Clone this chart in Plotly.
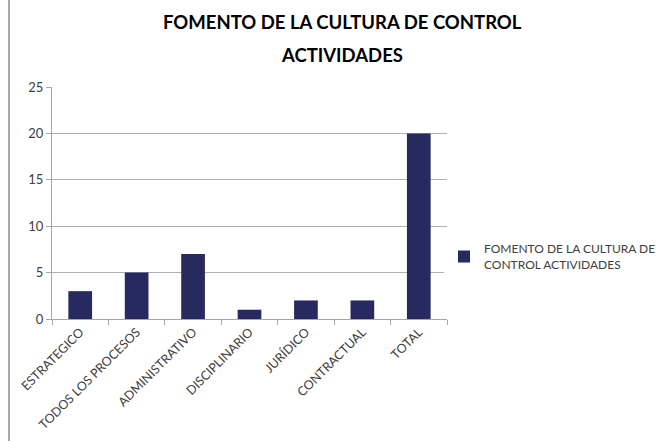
import plotly.graph_objects as go

categories = ["ESTRATEGICO", "TODOS LOS PROCESOS", "ADMINISTRATIVO", "DISCIPLINARIO", "JURÍDICO", "CONTRACTUAL", "TOTAL"]
values = [3, 5, 7, 1, 2, 2, 20]
series_name = "FOMENTO DE LA CULTURA DE<br>CONTROL ACTIVIDADES"
y_ticks = [0, 5, 10, 15, 20, 25]
title_lines = ["FOMENTO DE LA CULTURA DE CONTROL", "ACTIVIDADES"]

W, H = 663, 441
L, R, T, B = 52, 216, 87, 122
PW, PH = W - L - R, H - T - B

fig = go.Figure()
fig.add_trace(go.Bar(
    x=categories, y=values, name=series_name,
    marker=dict(color="#262a5e", line=dict(width=0)),
    width=0.42, showlegend=True,
))

font_fam = "Lato, Open Sans, sans-serif"
fig.update_layout(
    width=W, height=H,
    margin=dict(l=L, r=R, t=T, b=B, pad=0, autoexpand=False),
    paper_bgcolor="white", plot_bgcolor="white",
    font=dict(family=font_fam, size=12, color="#404040"),
    xaxis=dict(type="category", showgrid=False, showline=True, linecolor="#a6a6a6",
               ticks="outside", tickson="boundaries", ticklen=5, tickcolor="#a6a6a6",
               tickangle=-45, automargin=False, tickfont=dict(size=12.5, color="#404040")),
    yaxis=dict(range=[0, 25], tickvals=y_ticks, showgrid=True, gridcolor="#b0b0b0",
               showline=True, linecolor="#a6a6a6", ticks="outside", ticklen=5,
               tickcolor="#a6a6a6", zeroline=False, automargin=False,
               tickfont=dict(size=13, color="#404040")),
    legend=dict(x=(444 - L) / PW, xanchor="left", y=(H - B - 257) / PH,
                yanchor="middle", font=dict(size=12, color="#404040"),
                itemwidth=30, tracegroupgap=0),
    showlegend=True,
)
# title as two annotations for precise placement
for i, (line, yc) in enumerate(zip(title_lines, [22, 55])):
    fig.add_annotation(text="<b>%s</b>" % line, xref="paper", yref="paper",
                       x=(342 - L) / PW, y=(H - B - yc) / PH, xanchor="center", yanchor="middle",
                       showarrow=False, font=dict(family=font_fam, size=18.5, color="black"))
# left border line of the chart frame
fig.add_shape(type="line", xref="paper", yref="paper",
              x0=(9 - L) / PW, x1=(9 - L) / PW,
              y0=-B / PH, y1=1 + T / PH,
              line=dict(color="#8c8c8c", width=1.5))
fig.write_html("out.html", config=dict(displayModeBar=False),
               post_script="document.body.style.margin='0px';document.body.style.overflow='hidden';")
